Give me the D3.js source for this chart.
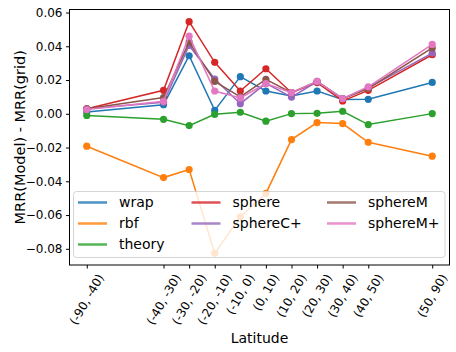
<!DOCTYPE html>
<meta charset="utf-8">
<style>
body{
  margin: 0;
  background: #fff;
}
svg{
  display: block;
  font-family: "DejaVu Sans", sans-serif;
}
</style>

<svg width="456" height="352"></svg>
<script src="https://cdnjs.cloudflare.com/ajax/libs/d3/7.8.5/d3.min.js"></script>
<script>

var svg = d3.select("svg");

// latitude bins, placed at the bin midpoint
var bins = ["(-90, -40)", "(-40, -30)", "(-30, -20)", "(-20, -10)", "(-10, 0)", "(0, 10)",
            "(10, 20)", "(20, 30)", "(30, 40)", "(40, 50)", "(50, 90)"];
var mids = [-65, -35, -25, -15, -5, 5, 15, 25, 35, 45, 70];

var names = ["wrap", "rbf", "theory", "sphere", "sphereC+", "sphereM", "sphereM+"];
var colors = ["#1f77b4", "#ff7f0e", "#2ca02c", "#d62728", "#9467bd", "#8c564b", "#e377c2"];

var wrap     = [0.001, 0.0054, 0.0344, 0.002, 0.022, 0.0135, 0.0105, 0.0135, 0.0084, 0.0086, 0.0186];
var rbf      = [-0.0192, -0.0378, -0.033, -0.0827, -0.061, -0.0472, -0.0153, -0.0052, -0.0058, -0.0169, -0.0251];
var theory   = [-0.001, -0.0033, -0.007, -0.0003, 0.0009, -0.0044, 0.0001, 0.0003, 0.0015, -0.0064, 0.0001];
var sphere   = [0.003, 0.0139, 0.0546, 0.0305, 0.0135, 0.0267, 0.0125, 0.0185, 0.0076, 0.0139, 0.035];
var sphereCp = [0.003, 0.0068, 0.0405, 0.0206, 0.006, 0.018, 0.0099, 0.019, 0.009, 0.0154, 0.036];
var sphereM  = [0.003, 0.0096, 0.0425, 0.0192, 0.0100, 0.0204, 0.0125, 0.0192, 0.009, 0.015, 0.039];
var sphereMp = [0.0025, 0.0074, 0.046, 0.0135, 0.0094, 0.0179, 0.0125, 0.0192, 0.009, 0.016, 0.0411];

var yTicks = [-0.08, -0.06, -0.04, -0.02, 0.00, 0.02, 0.04, 0.06];

var series = [wrap, rbf, theory, sphere, sphereCp, sphereM, sphereMp];

var plotL = 69.5, plotR = 449.5, plotT = 9.5, plotB = 265;

var x = d3.scaleLinear().domain([-71.75, 76.75]).range([plotL, plotR]);
var y = d3.scaleLinear().domain([-0.0896, 0.0618]).range([plotB, plotT]);

// lines + markers
var line = d3.line()
    .x(function(d, i) { return x(mids[i]); })
    .y(function(d) { return y(d); });

series.forEach(function(s, k) {
  var g = svg.append("g");
  g.append("path")
    .attr("d", line(s))
    .attr("fill", "none")
    .attr("stroke", colors[k])
    .attr("stroke-width", 1.5);
  g.selectAll("circle")
    .data(s)
    .enter().append("circle")
      .attr("cx", function(d, i) { return x(mids[i]); })
      .attr("cy", function(d) { return y(d); })
      .attr("r", 3.6)
      .attr("fill", colors[k]);
});

// legend
var lg = svg.append("g");
lg.append("rect")
  .attr("x", 73.5).attr("y", 191.5)
  .attr("width", 371.5).attr("height", 66)
  .attr("rx", 3)
  .attr("fill", "#fff").attr("fill-opacity", 0.8)
  .attr("stroke", "#cccccc").attr("stroke-opacity", 0.8);

var colX = [78, 191.5, 327];
var rowY = [202.5, 223.5, 244.5];
var slots = [[0,0],[0,1],[0,2],[1,0],[1,1],[2,0],[2,1]];

names.forEach(function(n, k) {
  var cx = colX[slots[k][0]], cy = rowY[slots[k][1]];
  lg.append("line")
    .attr("x1", cx).attr("x2", cx + 29)
    .attr("y1", cy).attr("y2", cy)
    .attr("stroke", colors[k]).attr("stroke-width", 2.5)
    .attr("stroke-opacity", 0.8);
  lg.append("text")
    .attr("x", cx + 41).attr("y", cy)
    .attr("dy", "0.35em")
    .attr("font-size", 14)
    .text(n);
});

// frame
svg.append("rect")
  .attr("x", plotL).attr("y", plotT)
  .attr("width", plotR - plotL).attr("height", plotB - plotT)
  .attr("fill", "none").attr("stroke", "#000").attr("stroke-width", 1);

// y axis
var yAxis = svg.append("g")
  .attr("transform", "translate(" + plotL + ",0)")
  .call(d3.axisLeft(y).tickValues(yTicks).tickFormat(d3.format(".2f")).tickSize(3.5).tickPadding(3.5));
yAxis.select(".domain").remove();
yAxis.selectAll("text").attr("font-size", 12).attr("fill", "#000").attr("font-family", "DejaVu Sans");

// x axis
var xAxis = svg.append("g")
  .attr("transform", "translate(0," + plotB + ")")
  .call(d3.axisBottom(x).tickValues(mids).tickFormat("").tickSize(3.5));
xAxis.select(".domain").remove();

svg.append("g").selectAll("text")
  .data(bins)
  .enter().append("text")
    .attr("font-size", 12)
    .attr("text-anchor", "middle")
    .attr("dy", "0.35em")
    .text(function(d) { return d; })
    .attr("transform", function(d, i) {
      var w = this.getComputedTextLength(), h = 12;
      var cy = plotB + 7 + (0.866 * w + 0.5 * h) / 2;
      return "translate(" + x(mids[i]) + "," + cy + ") rotate(-60)";
    });

// axis labels
svg.append("text")
  .attr("x", (plotL + plotR) / 2).attr("y", 343)
  .attr("text-anchor", "middle")
  .attr("font-size", 14)
  .text("Latitude");

svg.append("text")
  .attr("transform", "translate(20," + (plotT + plotB) / 2 + ") rotate(-90)")
  .attr("text-anchor", "middle")
  .attr("dy", "0.35em")
  .attr("font-size", 14.5)
  .text("MRR(Model) - MRR(grid)");

</script>
